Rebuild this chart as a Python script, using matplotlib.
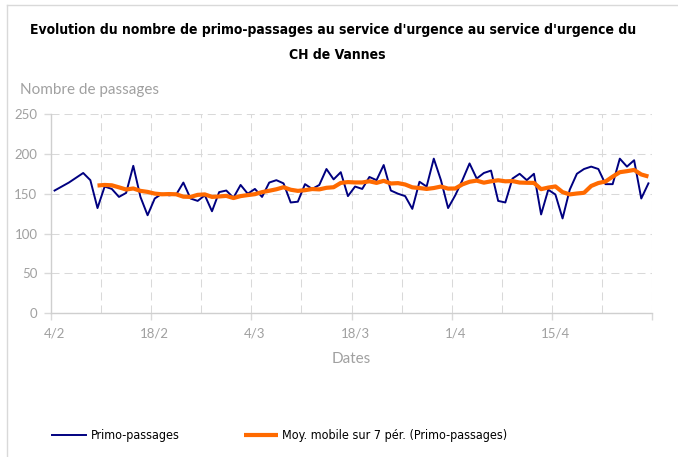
import numpy as np
import pandas as pd
import matplotlib
matplotlib.use("Agg")
import matplotlib.pyplot as plt
from matplotlib.lines import Line2D

# valeurs (du 4/2 au 28/4, un point par jour)
primo_passages = [
    154, 159, 164, 170, 176, 167, 132, 159, 156, 146, 151, 185, 146, 123,
    144, 150, 148, 149, 164, 144, 141, 148, 128, 152, 154, 145, 161, 150,
    156, 146, 164, 167, 163, 139, 140, 162, 156, 161, 181, 168, 177, 147,
    159, 156, 171, 167, 186, 154, 150, 147, 131, 165, 159, 194, 167, 132,
    148, 167, 188, 169, 176, 179, 141, 139, 169, 175, 167, 175, 124, 155,
    149, 119, 155, 175, 181, 184, 181, 162, 162, 194, 184, 192, 144, 163,
]
tick_labels = ["4/2", "18/2", "4/3", "18/3", "1/4", "15/4"]
y_ticks = [0, 50, 100, 150, 200, 250]

jours = np.arange(len(primo_passages))
moy_mobile = pd.Series(primo_passages).rolling(7).mean()

grey_txt = "#a0a0a0"
grid_col = "#d9d9d9"
narrow = ["DejaVu Sans"]
light = ["Lato", "DejaVu Sans"]

fig = plt.figure(figsize=(6.78, 4.57), dpi=100)
ax = fig.add_axes([51 / 678, 1 - 313.3 / 457, 601 / 678, 199.3 / 457])

ax.plot(jours, primo_passages, color="#000080", lw=1.4, solid_joinstyle="round", zorder=3)
ax.plot(jours, moy_mobile, color="#ff6a00", lw=3.0, solid_capstyle="butt", zorder=4)

ax.set_xlim(-0.5, len(primo_passages) - 0.5)
ax.set_ylim(0, 250)

# grille pointillée : horizontale tous les 50, verticale toutes les semaines
dash = (0, (7.7, 4.8))
ax.set_yticks(y_ticks)
ax.yaxis.grid(True, color=grid_col, lw=0.75, linestyle=dash)
for b in np.arange(-0.5, len(primo_passages), 7)[1:]:
    ax.axvline(b, color=grid_col, lw=0.75, linestyle=dash, zorder=1)

# graduations toutes les deux semaines, étiquettes au milieu du jour
ax.set_xticks(np.arange(-0.5, len(primo_passages), 14))
ax.set_xticklabels([])
ax.set_xticks(np.arange(0, len(primo_passages), 14), labels=tick_labels, minor=True)
ax.tick_params(axis="x", which="major", length=5, width=1, color=grid_col, direction="out")
ax.tick_params(axis="x", which="minor", length=0, pad=10.5, labelsize=9.5, labelcolor=grey_txt)
ax.tick_params(axis="y", length=5, width=1, color=grid_col, pad=4.8, labelsize=9.5, labelcolor=grey_txt)
for lab in ax.get_xticklabels(minor=True) + ax.get_yticklabels():
    lab.set_family(light)
ax.set_axisbelow(True)

for s in ["top", "right"]:
    ax.spines[s].set_visible(False)
for s in ["left", "bottom"]:
    ax.spines[s].set_color("#cfcfcf")
    ax.spines[s].set_linewidth(1)

ax.set_xlabel("Dates", family=light, fontsize=11, color=grey_txt, labelpad=9)
fig.text(20 / 678, 1 - 90 / 457, "Nombre de passages", family=light, fontsize=11,
         color=grey_txt, ha="left", va="center")

fig.text(333 / 678, 1 - 30 / 457,
         "Evolution du nombre de primo-passages au service d'urgence au service d'urgence du",
         family=narrow, stretch="condensed", fontsize=10, weight="bold", ha="center", va="center")
fig.text(337 / 678, 1 - 55 / 457, "CH de Vannes",
         family=narrow, stretch="condensed", fontsize=10, weight="bold", ha="center", va="center")

handles = [Line2D([], [], color="#000080", lw=1.4),
           Line2D([], [], color="#ff6a00", lw=3.0, solid_capstyle="butt")]
fig.legend(handles, ["Primo-passages", "Moy. mobile sur 7 pér. (Primo-passages)"],
           loc="center", bbox_to_anchor=(280 / 678, 1 - 436 / 457), ncol=2,
           frameon=False, borderpad=0, borderaxespad=0, handlelength=2.7,
           handletextpad=0.35, columnspacing=5.2,
           prop={"family": narrow, "stretch": "condensed", "size": 9})

# cadre du graphique
fig.add_artist(Line2D([7 / 678, 7 / 678], [0, 1 - 5 / 457], color=grid_col, lw=1))
fig.add_artist(Line2D([7 / 678, 1], [1 - 5 / 457, 1 - 5 / 457], color=grid_col, lw=1))

fig.savefig("out.png", dpi=100)
